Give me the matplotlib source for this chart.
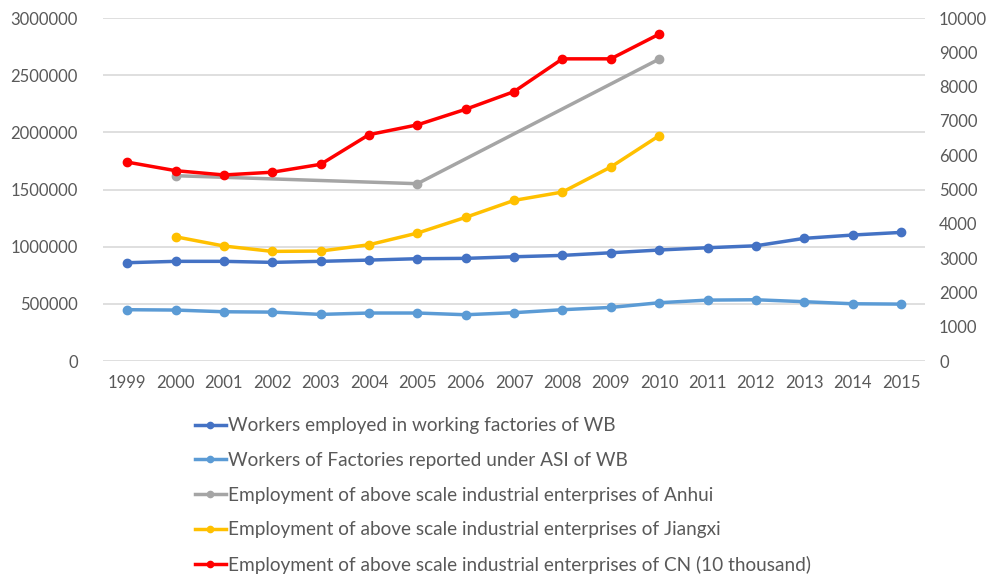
import matplotlib
matplotlib.use("Agg")
import matplotlib.pyplot as plt
import numpy as np

years = [str(y) for y in range(1999, 2016)]

wb_working = [860000, 872000, 872000, 863000, 872000, 883000, 895000, 898000, 912000,
              924000, 947000, 971000, 991000, 1008000, 1073000, 1102000, 1125000]
wb_asi = [449000, 446000, 431000, 428000, 408000, 420000, 420000, 405000, 423000,
          449000, 469000, 510000, 533000, 536000, 519000, 501000, 498000]
anhui_years = ["2000", "2005", "2010"]
anhui = [1621000, 1551000, 2641000]
jiangxi_years = [str(y) for y in range(2000, 2011)]
jiangxi = [1087000, 1006000, 959000, 962000, 1017000, 1119000, 1257000, 1405000,
           1478000, 1697000, 1971000]
cn_years = [str(y) for y in range(1999, 2011)]
cn = [5800, 5550, 5425, 5505, 5735, 6600, 6885, 7340, 7855, 8810, 8810, 9530]

labels = [
    "Workers employed in working factories of WB",
    "Workers of Factories reported under ASI of WB",
    "Employment of above scale industrial enterprises of Anhui",
    "Employment of above scale industrial enterprises of Jiangxi",
    "Employment of above scale industrial enterprises of CN (10 thousand)",
]
colors = ["#4472C4", "#5B9BD5", "#A5A5A5", "#FFC000", "#FF0000"]

plt.rcParams['font.family'] = ['Lato', 'DejaVu Sans']

fig = plt.figure(figsize=(9.98, 5.74), dpi=100)
ax = fig.add_axes([0.1032, 0.371, 0.8238, 0.5976])
ax2 = ax.twinx()

idx = {y: i for i, y in enumerate(years)}
kw = dict(lw=2.5, marker="o", markersize=6)
h1, = ax.plot([idx[y] for y in years], wb_working, color=colors[0], **kw)
h2, = ax.plot([idx[y] for y in years], wb_asi, color=colors[1], **kw)
h3, = ax.plot([idx[y] for y in anhui_years], anhui, color=colors[2], **kw)
h4, = ax.plot([idx[y] for y in jiangxi_years], jiangxi, color=colors[3], **kw)
h5, = ax2.plot([idx[y] for y in cn_years], cn, color=colors[4], **kw)

ax.set_xlim(-0.5, len(years) - 0.5)
ax.set_ylim(0, 3000000)
ax2.set_ylim(0, 10000)
ax.set_yticks(np.arange(0, 3000001, 500000))
ax.set_yticklabels([str(v) for v in range(0, 3000001, 500000)])
ax2.set_yticks(np.arange(0, 10001, 1000))
ax2.set_yticklabels([str(v) for v in range(0, 10001, 1000)])
ax.set_xticks(range(len(years)))
ax.set_xticklabels(years)

for a in (ax, ax2):
    for s in a.spines.values():
        s.set_visible(False)
    a.tick_params(length=0, labelsize=12, labelcolor="#595959")
ax.tick_params(axis="y", pad=18)
ax2.tick_params(axis="y", pad=10)
ax.tick_params(axis="x", pad=10)
ax.grid(axis="y", color="#D9D9D9", lw=1.2)
ax.set_axisbelow(True)

leg = fig.legend([h1, h2, h3, h4, h5], labels, loc="upper left",
                 bbox_to_anchor=(0.195, 0.273), frameon=False, fontsize=13.7,
                 handlelength=1.65, handletextpad=0.12, labelspacing=0.93,
                 borderaxespad=0, borderpad=0)
for t in leg.get_texts():
    t.set_color("#595959")
for h in leg.legend_handles:
    h.set_markersize(4.5)

fig.savefig("out.png", dpi=100)
